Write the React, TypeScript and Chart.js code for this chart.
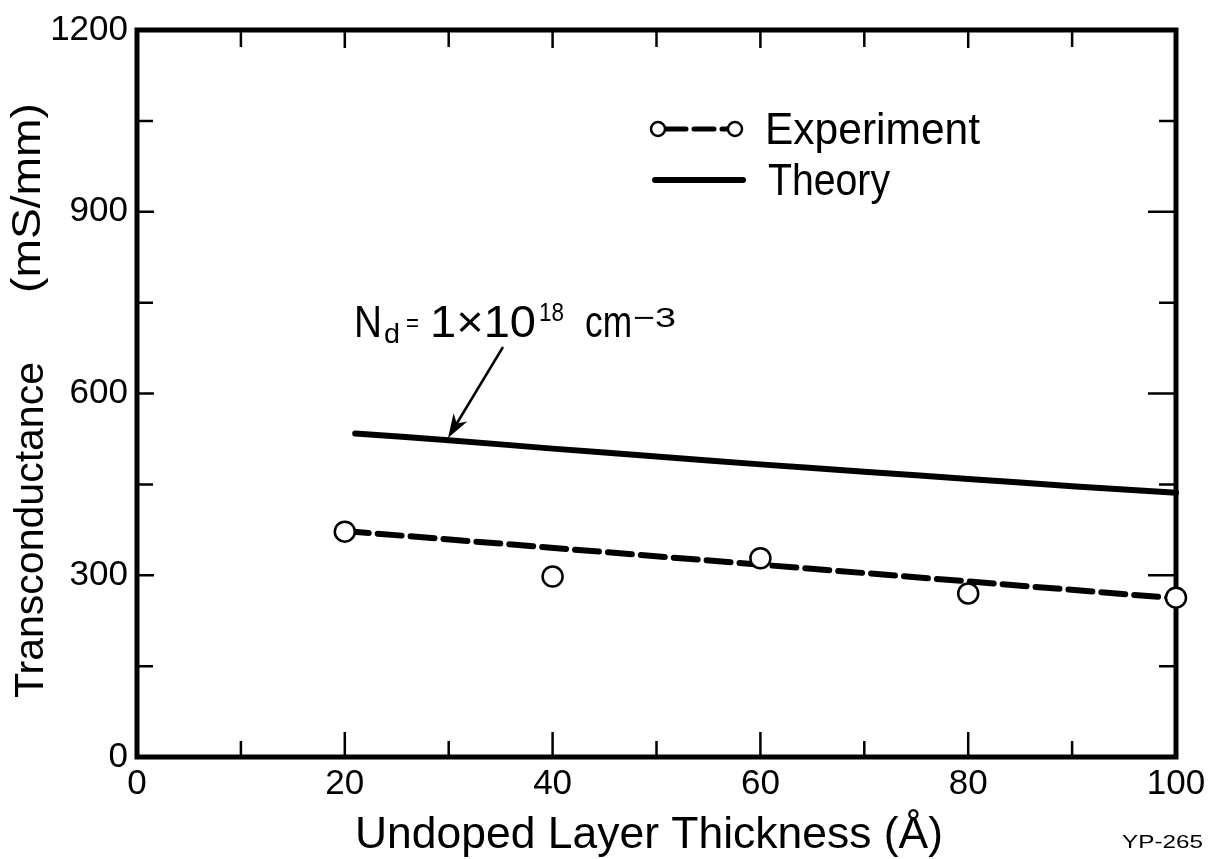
import React, { useEffect, useRef } from "react";
import { Chart, registerables } from "chart.js";

Chart.register(...registerables);

// ---- data ----
const theoryX = [21, 30, 40, 50, 60, 70, 80, 90, 100];
const theoryY = [534, 523, 509, 496, 483, 471, 459, 447, 436];

const expX = [20, 40, 60, 80, 100];
const expY = [372, 298, 328, 270, 263];

const fitX = [20, 100];
const fitY = [373, 262];

const xTicksLabelled = [0, 20, 40, 60, 80, 100];
const yTicksLabelled = [0, 300, 600, 900, 1200];

const xTitle = "Undoped Layer Thickness (Å)";
const yTitleMain = "Transconductance";
const yTitleUnit = "(mS/mm)";
const legendExp = "Experiment";
const legendTheory = "Theory";
const figCode = "YP-265";

const FONT = "'Liberation Sans', Arial, sans-serif";

function drawFitText(
  ctx: CanvasRenderingContext2D,
  text: string,
  x: number,
  y: number,
  size: number,
  width?: number,
  rotate = 0
) {
  ctx.save();
  ctx.font = `${size}px ${FONT}`;
  ctx.textAlign = "left";
  ctx.textBaseline = "alphabetic";
  ctx.fillStyle = "#000";
  const w = ctx.measureText(text).width;
  const sx = width ? width / w : 1;
  ctx.translate(x, y);
  if (rotate) ctx.rotate(rotate);
  ctx.scale(sx, 1);
  ctx.fillText(text, 0, 0);
  ctx.restore();
}

const framePlugin = {
  id: "framePlugin",
  beforeDatasetsDraw(chart: any) {
    const { ctx, chartArea } = chart;
    const { left, right, top, bottom } = chartArea;
    const xs = chart.scales.x;
    const ys = chart.scales.y;
    ctx.save();
    ctx.strokeStyle = "#000";
    ctx.lineCap = "butt";
    // inward ticks on all four sides
    ctx.lineWidth = 2.5;
    xs.ticks.forEach((t: any) => {
      const v = t.value;
      if (v <= 0 || v >= 100) return;
      const px = xs.getPixelForValue(v);
      const len = xTicksLabelled.includes(v) ? 25 : 16;
      ctx.beginPath();
      ctx.moveTo(px, bottom);
      ctx.lineTo(px, bottom - len);
      ctx.moveTo(px, top);
      ctx.lineTo(px, top + (xTicksLabelled.includes(v) ? 18 : 17));
      ctx.stroke();
    });
    ys.ticks.forEach((t: any) => {
      const v = t.value;
      if (v <= 0 || v >= 1200) return;
      const py = ys.getPixelForValue(v);
      const len = yTicksLabelled.includes(v) ? 28 : 17;
      ctx.beginPath();
      ctx.moveTo(left, py);
      ctx.lineTo(left + (yTicksLabelled.includes(v) ? 17 : 16), py);
      ctx.moveTo(right, py);
      ctx.lineTo(right - len, py);
      ctx.stroke();
    });
    // frame
    ctx.lineWidth = 5;
    ctx.lineJoin = "miter";
    ctx.strokeRect(left, top, right - left, bottom - top);
    ctx.restore();
  },
  afterDraw(chart: any) {
    const { ctx } = chart;
    ctx.save();
    // axis titles
    drawFitText(ctx, xTitle, 355, 848, 44, 588);
    drawFitText(ctx, yTitleMain, 43, 698, 41, 336, -Math.PI / 2);
    drawFitText(ctx, yTitleUnit, 40, 293, 40, 190, -Math.PI / 2);
    drawFitText(ctx, figCode, 1122, 848, 18, 81);

    // legend
    ctx.strokeStyle = "#000";
    ctx.lineWidth = 5;
    ctx.lineCap = "round";
    ctx.setLineDash([20, 8]);
    ctx.beginPath();
    ctx.moveTo(666, 129);
    ctx.lineTo(728, 129);
    ctx.stroke();
    ctx.setLineDash([]);
    ctx.lineWidth = 2.5;
    [658, 735].forEach((cx) => {
      ctx.beginPath();
      ctx.arc(cx, 129, 7, 0, Math.PI * 2);
      ctx.fillStyle = "#fff";
      ctx.fill();
      ctx.stroke();
    });
    ctx.lineWidth = 6;
    ctx.beginPath();
    ctx.moveTo(655, 180);
    ctx.lineTo(743, 180);
    ctx.stroke();
    drawFitText(ctx, legendExp, 765, 144, 44, 215);
    drawFitText(ctx, legendTheory, 768, 195, 44, 122);

    // annotation N_d = 1 x 10^18 cm^-3
    drawFitText(ctx, "N", 354, 337, 44, 28);
    drawFitText(ctx, "d", 384, 343, 28, 16);
    drawFitText(ctx, "=", 406, 331, 26, 13);
    drawFitText(ctx, "1×10", 430, 337, 44, 106);
    drawFitText(ctx, "18", 539, 321, 26, 25);
    drawFitText(ctx, "cm", 585, 337, 44, 47);
    drawFitText(ctx, "−3", 633, 327, 28, 43);

    // arrow
    const x1 = 503, y1 = 347, x2 = 448, y2 = 438;
    const ang = Math.atan2(y2 - y1, x2 - x1);
    ctx.fillStyle = "#000";
    ctx.lineWidth = 2.5;
    ctx.lineCap = "butt";
    ctx.beginPath();
    ctx.moveTo(x1, y1);
    ctx.lineTo(x2 - 14 * Math.cos(ang), y2 - 14 * Math.sin(ang));
    ctx.stroke();
    const hl = 24, hw = 8;
    const bx = x2 - hl * Math.cos(ang), by = y2 - hl * Math.sin(ang);
    ctx.beginPath();
    ctx.moveTo(x2, y2);
    ctx.lineTo(bx + hw * Math.sin(ang), by - hw * Math.cos(ang));
    ctx.lineTo(x2 - (hl - 7) * Math.cos(ang), y2 - (hl - 7) * Math.sin(ang));
    ctx.lineTo(bx - hw * Math.sin(ang), by + hw * Math.cos(ang));
    ctx.closePath();
    ctx.fill();
    ctx.restore();
  },
};

export default function App() {
  const canvasRef = useRef<HTMLCanvasElement | null>(null);

  useEffect(() => {
    const canvas = canvasRef.current;
    if (!canvas) return;
    Chart.defaults.font.family = FONT;
    Chart.defaults.color = "#000";

    const chart = new Chart(canvas, {
      type: "scatter",
      data: {
        datasets: [
          {
            label: "Experiment",
            data: expX.map((x, i) => ({ x, y: expY[i] })),
            showLine: false,
            pointRadius: 10,
            pointBorderWidth: 2.5,
            pointBorderColor: "#000",
            pointBackgroundColor: "#fff",
            clip: false,
            order: 0,
          },
          {
            label: "Experiment fit",
            data: fitX.map((x, i) => ({ x, y: fitY[i] })),
            showLine: true,
            borderColor: "#000",
            borderWidth: 6,
            borderDash: [24, 9],
            borderCapStyle: "round",
            pointRadius: 0,
            clip: false,
            order: 1,
          },
          {
            label: "Theory",
            data: theoryX.map((x, i) => ({ x, y: theoryY[i] })),
            showLine: true,
            borderColor: "#000",
            borderWidth: 6,
            borderCapStyle: "round",
            borderJoinStyle: "round",
            tension: 0.3,
            pointRadius: 0,
            clip: false,
            order: 2,
          },
        ],
      },
      options: {
        responsive: false,
        animation: false,
        events: [],
        layout: { padding: { top: 27, right: 36, left: 0, bottom: 0 } },
        plugins: {
          legend: { display: false },
          tooltip: { enabled: false },
          title: { display: false },
        },
        scales: {
          x: {
            type: "linear",
            min: 0,
            max: 100,
            grid: { display: false, drawTicks: false },
            border: { display: false },
            ticks: {
              stepSize: 10,
              autoSkip: false,
              maxRotation: 0,
              padding: 6,
              font: { size: 35 },
              color: "#000",
              callback: (v: any) => (xTicksLabelled.includes(Number(v)) ? String(v) : ""),
            },
            afterFit: (s: any) => {
              s.height = 102;
            },
          },
          y: {
            type: "linear",
            min: 0,
            max: 1200,
            grid: { display: false, drawTicks: false },
            border: { display: false },
            ticks: {
              stepSize: 150,
              autoSkip: false,
              padding: 9,
              font: { size: 35 },
              color: "#000",
              callback: (v: any) => (yTicksLabelled.includes(Number(v)) ? String(v) : ""),
            },
            afterFit: (s: any) => {
              s.width = 137;
            },
          },
        },
      },
      plugins: [framePlugin],
    } as any);

    return () => chart.destroy();
  }, []);

  return (
    <div
      style={{
        position: "absolute",
        left: 0,
        top: 0,
        width: 1212,
        height: 859,
        background: "#fff",
      }}
    >
      <canvas ref={canvasRef} width={1212} height={859} />
    </div>
  );
}
